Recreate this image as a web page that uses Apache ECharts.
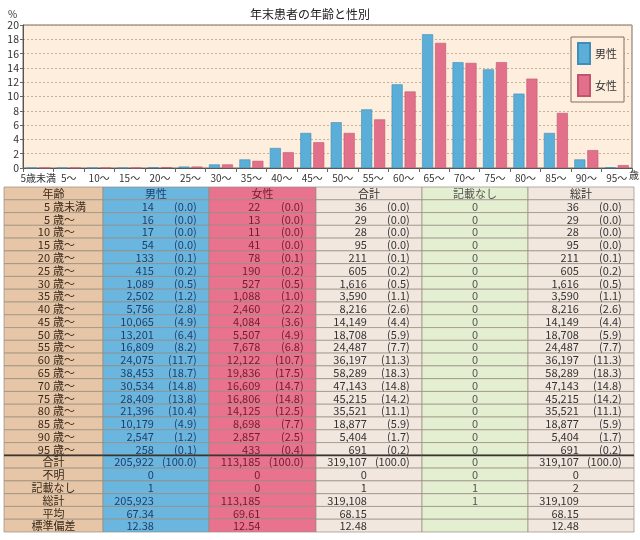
<!DOCTYPE html>
<html><head><meta charset="utf-8">
<script src="https://cdn.jsdelivr.net/npm/echarts@6/dist/echarts.min.js"></script>
<style>html,body{margin:0;padding:0;background:#fff}#c{width:640px;height:540px}</style>
</head><body><div id="c"></div>
<script>
const categories = ['5歳未満','5〜','10〜','15〜','20〜','25〜','30〜','35〜','40〜','45〜','50〜','55〜','60〜','65〜','70〜','75〜','80〜','85〜','90〜','95〜'];
const ageNums = ['5','5','10','15','20','25','30','35','40','45','50','55','60','65','70','75','80','85','90','95'];
const yTicks = [0,2,4,6,8,10,12,14,16,18,20];
const maleCount = [14,16,17,54,133,415,1089,2502,5756,10065,13201,16809,24075,38453,30534,28409,21396,10179,2547,258];
const malePct = [0.0,0.0,0.0,0.0,0.1,0.2,0.5,1.2,2.8,4.9,6.4,8.2,11.7,18.7,14.8,13.8,10.4,4.9,1.2,0.1];
const femaleCount = [22,13,11,41,78,190,527,1088,2460,4084,5507,7678,12122,19836,16609,16806,14125,8698,2857,433];
const femalePct = [0.0,0.0,0.0,0.0,0.1,0.2,0.5,1.0,2.2,3.6,4.9,6.8,10.7,17.5,14.7,14.8,12.5,7.7,2.5,0.4];
const totalCount = [36,29,28,95,211,605,1616,3590,8216,14149,18708,24487,36197,58289,47143,45215,35521,18877,5404,691];
const totalPct = [0.0,0.0,0.0,0.0,0.1,0.2,0.5,1.1,2.6,4.4,5.9,7.7,11.3,18.3,14.8,14.2,11.1,5.9,1.7,0.2];
const unrecordedCount = [0,0,0,0,0,0,0,0,0,0,0,0,0,0,0,0,0,0,0,0];
const grandCount = [36,29,28,95,211,605,1616,3590,8216,14149,18708,24487,36197,58289,47143,45215,35521,18877,5404,691];
const grandPct = [0.0,0.0,0.0,0.0,0.1,0.2,0.5,1.1,2.6,4.4,5.9,7.7,11.3,18.3,14.8,14.2,11.1,5.9,1.7,0.2];
const headers = ['年齢','男性','女性','合計','記載なし','総計'];
const summaryLabels = ['合計','不明','記載なし','総計','平均','標準偏差'];
const summaryValues = [
  ['205,922','113,185','319,107','0','319,107'],
  ['0','0','0','0','0'],
  ['1','0','1','1','2'],
  ['205,923','113,185','319,108','1','319,109'],
  ['67.34','69.61','68.15','','68.15'],
  ['12.38','12.54','12.48','','12.48']
];
const summaryPct = [['(100.0)','(100.0)','(100.0)','','(100.0)'],['','','','',''],['','','','',''],['','','','',''],['','','','',''],['','','','','']];

// layout (table column edges in table-axis units)
const colEdges = [0, 99, 205, 312, 418, 524, 630];
const FONT = '"Noto Sans CJK JP","Noto Sans",sans-serif';
const colBg = ['#e6c6a6','#6ab6df','#e9738e','#f2e7df','#e4eed1','#f2e7df'];
const colText = ['#3b2a1c','#1f3f6b','#6e1c30','#333','#555','#333'];
const fmt = v => v.toLocaleString('en-US');
const fp = v => '(' + v.toFixed(1) + ')';

const tableRows = [];
tableRows.push({type:'header'});
for (let i = 0; i < ageNums.length; i++) {
  tableRows.push({type:'age', num: ageNums[i], suf: i === 0 ? '歳未満' : '歳〜',
    cells: [[fmt(maleCount[i]), fp(malePct[i])],[fmt(femaleCount[i]), fp(femalePct[i])],[fmt(totalCount[i]), fp(totalPct[i])],[fmt(unrecordedCount[i]), ''],[fmt(grandCount[i]), fp(grandPct[i])]]});
}
for (let i = 0; i < summaryLabels.length; i++) {
  tableRows.push({type:'sum', label: summaryLabels[i], cells: summaryValues[i].map((v,k)=>[v, summaryPct[i][k]])});
}
const tableData = [];
tableRows.forEach((r, ri) => { for (let c = 0; c < 6; c++) tableData.push([c, ri]); });

function renderCell(params, api) {
  const c = api.value(0), r = api.value(1);
  const left = api.coord([colEdges[c], r]);
  const right = api.coord([colEdges[c + 1], r]);
  const h = api.size([1, 1])[1];
  const x0 = left[0], w = right[0] - left[0];
  const cy = left[1], y0 = cy - h / 2, cx = x0 + w / 2;
  const ch = [{type:'rect', shape:{x:x0, y:y0, width:w, height:h}, style:{fill:colBg[c], stroke:'#958c80', lineWidth:0.7}}];
  const font = '11px ' + FONT;
  const row = tableRows[r];
  const txt = (t, x, align) => ch.push({type:'text', style:{text:t, x:x, y:cy + 0.5, align:align, verticalAlign:'middle', fill:colText[c], font:font}});
  if (row.type === 'header') {
    txt(headers[c], cx, 'center');
  } else if (c === 0) {
    if (row.type === 'age') {
      txt(row.num, x0 + 46, 'right');
      txt(row.suf, x0 + 49, 'left');
    } else {
      txt(row.label, cx, 'center');
    }
  } else if (c === 4) {
    txt(row.cells[3][0], cx, 'center');
  } else {
    const cell = row.cells[c === 5 ? 4 : c - 1];
    txt(cell[0], x0 + 0.48 * w, 'right');
    if (cell[1]) txt(cell[1], x0 + 0.885 * w, 'right');
  }
  if (r === 21) ch.push({type:'line', shape:{x1:x0, y1:y0, x2:x0 + w, y2:y0}, style:{stroke:'#3a3530', lineWidth:1.6}});
  return {type:'group', children: ch};
}

const chart = echarts.init(document.getElementById('c'));
chart.setOption({
  animation: false,
  backgroundColor: '#ffffff',
  textStyle: {fontFamily: FONT},
  title: {text: '年末患者の年齢と性別', left: 245, top: 3, textStyle: {fontSize: 12, fontWeight: 'normal', color: '#222', fontFamily: FONT}},
  legend: {data: ['男性','女性'], orient: 'vertical', right: 16, top: 37, icon: 'rect', itemWidth: 12, itemHeight: 21, itemGap: 9,
    padding: [5, 7, 5, 6], backgroundColor: '#fdeedd', borderColor: '#8a6d5d', borderWidth: 1,
    textStyle: {fontSize: 11, color: '#333', fontFamily: FONT}},
  graphic: [
    {type:'text', left: 8, top: 9, style:{text:'%', fontSize: 10, fill:'#333', fontFamily: FONT}},
    {type:'text', left: 629, top: 170, style:{text:'歳', fontSize: 10, fill:'#333', fontFamily: FONT}}
  ],
  grid: [
    {left: 23, right: 8, top: 25, bottom: 372, show: true, backgroundColor: '#fdeedd', borderColor: '#7c6a5a', borderWidth: 1},
    {left: 4, right: 6, top: 187, bottom: 8}
  ],
  xAxis: [
    {type:'category', gridIndex:0, data: categories,
      axisLine:{lineStyle:{color:'#555'}}, axisTick:{show:true, length:4, lineStyle:{color:'#666'}},
      axisLabel:{fontSize: 10, color:'#333', margin: 5, interval: 0, fontFamily: FONT}},
    {type:'value', gridIndex:1, min: colEdges[0], max: colEdges[colEdges.length - 1], show: false}
  ],
  yAxis: [
    {type:'value', gridIndex:0, min: yTicks[0], max: yTicks[yTicks.length-1], interval: 2,
      axisLine:{show:true, lineStyle:{color:'#555'}}, axisTick:{show:true, length:3, lineStyle:{color:'#666'}},
      axisLabel:{fontSize: 10.5, color:'#333', margin: 4, fontFamily: FONT},
      splitLine:{lineStyle:{color:'#b8a08c', type:[2,2], width:0.8}}},
    {type:'category', gridIndex:1, inverse: true, data: tableRows.map((r,i)=>String(i)), show: false}
  ],
  series: [
    {name:'男性', type:'bar', xAxisIndex:0, yAxisIndex:0, data: malePct, barWidth: 11, barGap: '18%',
      itemStyle:{color:'#5aaed8', borderColor:'#3f8db8', borderWidth:0.6}},
    {name:'女性', type:'bar', xAxisIndex:0, yAxisIndex:0, data: femalePct, barWidth: 11,
      itemStyle:{color:'#e3708b', borderColor:'#c2556e', borderWidth:0.6}},
    {name:'table', type:'custom', xAxisIndex:1, yAxisIndex:1, data: tableData, renderItem: renderCell, silent: true}
  ]
});
</script></body></html>
